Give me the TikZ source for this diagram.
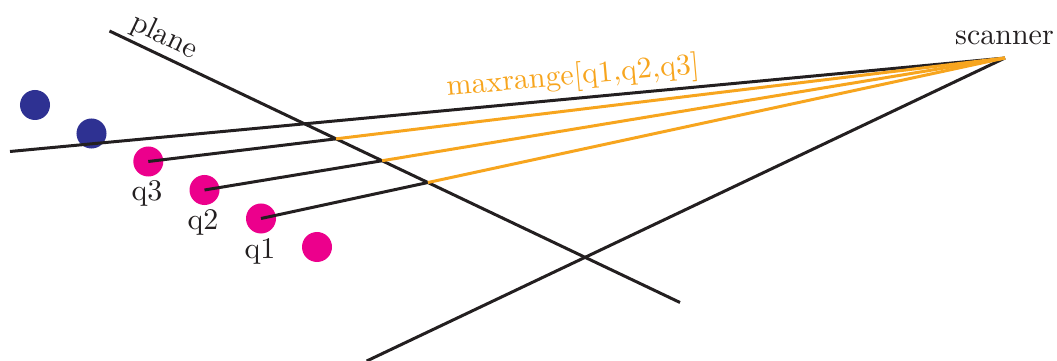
\documentclass[tikz,border=0pt]{standalone}
\usetikzlibrary{calc}
\definecolor{ink}{HTML}{231F20}
\definecolor{dotblue}{HTML}{2E3192}
\definecolor{dotmag}{HTML}{EC008C}
\definecolor{rangeorange}{HTML}{F7A51E}
\begin{document}
\begin{tikzpicture}[x=0.3333pt,y=-0.3333pt,
  blackline/.style={draw=ink,line width=1pt},
  ray/.style={draw=rangeorange,line width=1pt},
  bluedot/.style={circle,fill=dotblue,minimum size=10pt,inner sep=0pt},
  magdot/.style={circle,fill=dotmag,minimum size=10pt,inner sep=0pt},
  lbl/.style={text=ink,inner sep=0pt}]
\useasboundingbox (0,0) rectangle (1057,361);
\clip (0,0) rectangle (1057,361);
% key points
\coordinate (S) at (1005,58);
\coordinate (pA) at (109.5,31);
\coordinate (pB) at (680,302.5);
\coordinate (L) at (10,151.5);
\coordinate (B) at (366.7,361);
% dots
\node[bluedot] (b1) at (35,105) {};
\node[bluedot] (b2) at (91.5,133.5) {};
\node[magdot] (q3) at (148.3,161.5) {};
\node[magdot] (q2) at (204.5,190) {};
\node[magdot] (q1) at (261,218.5) {};
\node[magdot] (q0) at (317,247) {};
% intersections with the plane
\coordinate (i3) at (intersection of q3--S and pA--pB);
\coordinate (i2) at (intersection of q2--S and pA--pB);
\coordinate (i1) at (intersection of q1--S and pA--pB);
% lines
\draw[blackline] (L) -- (S);
\draw[blackline] (pA) -- (pB);
\draw[blackline] (S) -- (B);
\draw[blackline] (q3.center) -- (i3);
\draw[blackline] (q2.center) -- (i2);
\draw[blackline] (q1.center) -- (i1);
\draw[ray] (i3) -- (S);
\draw[ray] (i2) -- (S);
\draw[ray] (i1) -- (S);
% labels
\node[lbl] (sc) at (1004.5,37.5) {scanner};
\node[lbl,rotate=-25.4] (pl) at (164,37) {plane};
\node[lbl,text=rangeorange,rotate=5] (mr) at (573,77) {maxrange[q1,q2,q3]};
\node[lbl] (l3) at (147,193) {q3};
\node[lbl] (l2) at (203,222.5) {q2};
\node[lbl] (l1) at (260,251.5) {q1};
\end{tikzpicture}
\end{document}
